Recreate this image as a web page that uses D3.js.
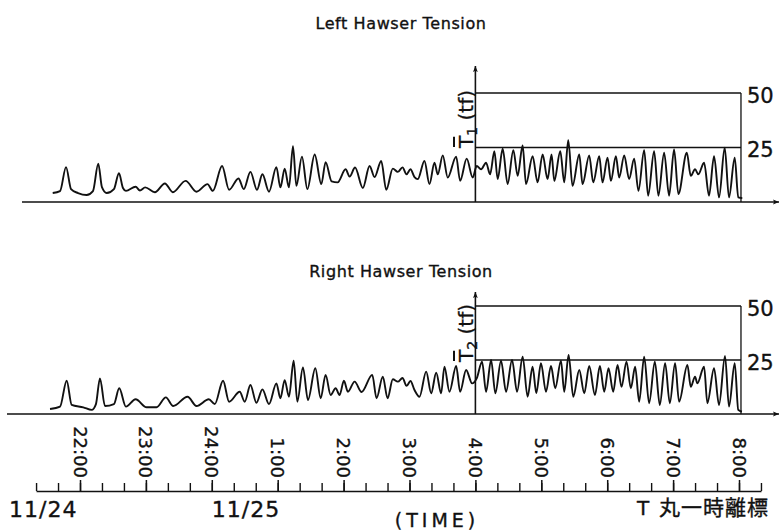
<!DOCTYPE html>
<html>
<head>
<meta charset="utf-8">
<script src="https://cdn.jsdelivr.net/npm/d3@7"></script>
<style>
  body { margin: 0; background: #fff; }
  svg { display: block; }
  text { font-family: "DejaVu Sans", sans-serif; fill: #111; stroke: #111; stroke-width: 0.35px; }
</style>
</head>
<body>
<svg id="chart" width="779" height="532"></svg>
<script>
// Time is in hours counted from 11/24 00:00 (so 25 = 1:00 on 11/25); tension in tf.
const leftHawser = [
  [21.586,4.1],[21.697,5.0],[21.788,16.0],[21.864,5.9],[21.97,4.1],[22.10,3.2],[22.197,5.0],[22.277,17.6],
  [22.333,6.8],[22.405,4.1],[22.515,5.9],[22.591,13.2],[22.652,6.4],[22.697,5.1],[22.844,7.0],[22.909,5.3],
  [22.989,6.7],[23.136,4.5],[23.288,8.5],[23.409,4.5],[23.602,9.7],[23.768,4.7],[23.935,8.2],[24.015,5.1],
  [24.156,16.5],[24.262,5.6],[24.405,10.8],[24.485,5.9],[24.586,13.8],[24.686,5.6],[24.768,12.7],[24.868,4.7],
  [24.98,16.0],[25.041,6.7],[25.106,15.3],[25.171,6.7],[25.232,25.6],[25.283,7.4],[25.368,20.8],[25.45,5.9],
  [25.561,21.8],[25.662,8.2],[25.727,18.3],[25.818,9.5],[25.909,9.0],[26.03,15.0],[26.091,11.7],[26.174,15.8],
  [26.292,6.4],[26.394,16.5],[26.47,11.4],[26.571,18.8],[26.647,5.6],[26.747,15.3],[26.823,13.8],[26.894,15.9],
  [26.955,12.7],[27.015,15.0],[27.076,11.4],[27.126,10.5],[27.227,18.8],[27.303,8.2],[27.379,18.0],[27.429,12.7],
  [27.505,21.4],[27.58,11.2],[27.708,20.8],[27.768,9.7],[27.868,19.9],[27.959,11.2],[28.02,16.5],[28.086,15.0],
  [28.162,18.0],[28.223,12.7],[28.288,23.3],[28.338,10.5],[28.414,24.4],[28.489,8.2],[28.576,23.8],[28.641,12.0],
  [28.717,25.9],[28.768,8.2],[28.868,21.0],[28.944,9.0],[29.02,21.8],[29.095,10.5],[29.156,21.8],[29.197,9.7],
  [29.288,23.3],[29.348,9.0],[29.409,28.3],[29.474,7.4],[29.576,21.8],[29.626,8.2],[29.727,21.4],[29.788,9.0],
  [29.879,21.0],[29.929,9.0],[30.005,20.3],[30.056,9.7],[30.132,21.0],[30.182,11.2],[30.258,21.4],[30.333,10.5],
  [30.409,19.9],[30.474,5.1],[30.561,23.8],[30.621,2.9],[30.712,23.3],[30.777,2.9],[30.864,22.6],[30.939,2.9],
  [31.015,24.1],[31.08,3.6],[31.208,22.6],[31.268,12.0],[31.333,15.0],[31.383,12.7],[31.47,18.0],[31.545,2.9],
  [31.621,21.0],[31.697,2.1],[31.783,24.9],[31.848,2.1],[31.935,20.3],[31.989,2.1],[32.05,1.8]
];

const rightHawser = [
  [21.545,2.3],[21.697,3.4],[21.798,15.4],[21.874,4.2],[22.05,3.1],[22.177,1.9],[22.242,4.6],[22.303,16.5],
  [22.379,3.7],[22.515,4.6],[22.595,11.9],[22.697,3.4],[22.844,6.8],[23.011,3.1],[23.162,3.1],[23.303,7.7],
  [23.414,3.7],[23.632,8.0],[23.768,3.7],[23.955,6.8],[24.045,4.6],[24.171,15.4],[24.262,5.7],[24.424,10.3],
  [24.5,5.7],[24.586,13.4],[24.677,5.2],[24.768,11.4],[24.868,4.6],[24.98,14.2],[25.041,7.3],[25.106,15.7],
  [25.171,8.0],[25.242,24.7],[25.298,5.7],[25.383,21.6],[25.459,6.5],[25.571,21.2],[25.652,7.3],[25.727,18.1],
  [25.803,8.8],[25.879,11.9],[25.939,8.8],[26.005,15.4],[26.065,10.3],[26.167,15.0],[26.273,10.2],[26.435,18.1],
  [26.5,7.3],[26.595,17.3],[26.667,7.3],[26.747,16.1],[26.823,15.0],[26.894,16.7],[26.955,13.0],[27.015,15.3],
  [27.076,11.1],[27.152,8.0],[27.253,19.6],[27.329,9.6],[27.405,19.1],[27.48,9.6],[27.53,21.9],[27.606,10.3],
  [27.708,22.2],[27.768,10.3],[27.859,20.4],[27.95,14.2],[28.02,16.5],[28.101,24.2],[28.162,10.3],[28.238,25.0],
  [28.303,9.6],[28.389,24.7],[28.465,10.3],[28.556,25.0],[28.632,10.3],[28.717,26.5],[28.792,8.0],[28.868,21.9],
  [28.924,9.7],[28.995,23.5],[29.071,10.3],[29.147,22.2],[29.212,11.9],[29.298,24.7],[29.348,10.3],[29.414,27.3],
  [29.485,8.0],[29.576,20.4],[29.652,9.6],[29.727,22.2],[29.814,8.8],[29.889,22.2],[29.955,10.3],[30.02,21.2],
  [30.091,10.3],[30.157,22.7],[30.217,12.6],[30.293,24.2],[30.359,11.9],[30.424,21.9],[30.485,5.7],[30.561,26.5],
  [30.636,5.0],[30.723,24.2],[30.798,4.2],[30.879,23.5],[30.95,5.0],[31.03,23.5],[31.091,5.7],[31.217,22.7],
  [31.268,12.6],[31.333,17.3],[31.368,14.2],[31.47,21.9],[31.52,5.0],[31.621,21.2],[31.697,4.2],[31.788,26.9],
  [31.848,3.4],[31.935,23.5],[31.989,1.9],[32.045,1.1]
];

const hourTicks = [22, 23, 24, 25, 26, 27, 28, 29, 30, 31, 32];
const hourLabels = ["22:00", "23:00", "24:00", "1:00", "2:00", "3:00", "4:00", "5:00", "6:00", "7:00", "8:00"];
const tensionTicks = [25, 50];
const dayLabels = ["11/24", "11/25"];

const svg = d3.select("#chart");
const ink = "#111";

// time scale shared by both panels and the clock axis
const x = d3.scaleLinear().domain([22, 32]).range([80, 739]);
const tStart = 21 + 1 / 3, tEnd = 32 + 1 / 3, tFrame = 32.03;
const xOrigin = x(28);

svg.append("defs").selectAll("marker")
  .data(["arrowUp", "arrowRight"])
  .join("marker")
  .attr("id", d => d)
  .attr("viewBox", "0 0 10 10")
  .attr("refX", 10).attr("refY", 5)
  .attr("markerUnits", "userSpaceOnUse")
  .attr("markerWidth", 11).attr("markerHeight", 6)
  .attr("orient", "auto")
  .append("path")
  .attr("d", "M0,1 L10,5 L0,9 L2,5 Z")
  .attr("fill", ink);

const panels = [
  { title: "Left Hawser Tension", titleY: 29, data: leftHawser,
    y: d3.scaleLinear().domain([0, 50]).range([202, 93]),
    arrowTop: 66, baseFrom: 22, sub: "1", labelY: 119 },
  { title: "Right Hawser Tension", titleY: 277, data: rightHawser,
    y: d3.scaleLinear().domain([0, 50]).range([414, 306]),
    arrowTop: 292, baseFrom: 7, sub: "2", labelY: 333 }
];

panels.forEach(p => {
  const g = svg.append("g");
  const y0 = p.y(0);

  g.append("text")
    .attr("x", 401).attr("y", p.titleY)
    .attr("text-anchor", "middle")
    .attr("font-size", 16)
    .attr("letter-spacing", 0.6)
    .text(p.title);

  // base line with arrow to the right
  g.append("line")
    .attr("x1", p.baseFrom).attr("x2", 779)
    .attr("y1", y0).attr("y2", y0)
    .attr("stroke", ink).attr("stroke-width", 1.7)
    .attr("marker-end", "url(#arrowRight)");

  // tension axis at 4:00, pointing up
  g.append("line")
    .attr("x1", xOrigin).attr("x2", xOrigin)
    .attr("y1", y0).attr("y2", p.arrowTop)
    .attr("stroke", ink).attr("stroke-width", 1.6)
    .attr("marker-end", "url(#arrowUp)");

  // reference frame at 25 and 50 tf
  g.selectAll("line.ref")
    .data(tensionTicks)
    .join("line")
    .attr("class", "ref")
    .attr("x1", xOrigin).attr("x2", x(tFrame))
    .attr("y1", d => p.y(d)).attr("y2", d => p.y(d))
    .attr("stroke", ink).attr("stroke-width", 1.3);

  g.append("line")
    .attr("x1", x(tFrame)).attr("x2", x(tFrame))
    .attr("y1", p.y(50)).attr("y2", y0)
    .attr("stroke", ink).attr("stroke-width", 1.3);

  const axisR = d3.axisRight(p.y).tickValues(tensionTicks).tickSize(0).tickPadding(6);
  const ga = g.append("g")
    .attr("transform", `translate(${x(tFrame)},0)`)
    .call(axisR);
  ga.select(".domain").remove();
  ga.selectAll("text")
    .attr("font-size", 21)
    .attr("dy", "0.45em")
    .attr("fill", ink)
    .style("font-family", "'DejaVu Sans', sans-serif");

  // rotated axis title: T with overbar, subscript, unit
  const lg = g.append("g")
    .attr("transform", `translate(473,${p.labelY}) rotate(-90)`);
  const lt = lg.append("text")
    .attr("text-anchor", "middle")
    .attr("font-size", 20);
  lt.append("tspan").text("T");
  lt.append("tspan").attr("font-size", 14).attr("dy", 4).text(p.sub);
  lt.append("tspan").attr("dy", -4).text(" (tf)");
  const node = lt.node();
  const tx = node.getStartPositionOfChar(0).x;
  const tw = node.getSubStringLength(0, 1);
  lg.append("line")
    .attr("x1", tx + 1).attr("x2", tx + tw - 1)
    .attr("y1", -19).attr("y2", -19)
    .attr("stroke", ink).attr("stroke-width", 2);

  // tension record
  const line = d3.line()
    .x(d => x(d[0]))
    .y(d => p.y(d[1]))
    .curve(d3.curveMonotoneX);
  g.append("path")
    .datum(p.data)
    .attr("d", line)
    .attr("fill", "none")
    .attr("stroke", ink)
    .attr("stroke-width", 1.9)
    .attr("stroke-linejoin", "round");
});

// clock axis
const axisY = 491;
const xAxis = x.copy().domain([tStart, tEnd]).range([x(tStart), x(tEnd)]);
const minorTicks = d3.range(0, 34).map(i => tStart + i / 3);

const gMinor = svg.append("g")
  .attr("transform", `translate(0,${axisY})`)
  .call(d3.axisTop(xAxis).tickValues(minorTicks).tickSize(8).tickSizeOuter(0).tickFormat(""));
gMinor.select(".domain").attr("stroke", ink).attr("stroke-width", 1.7);
gMinor.selectAll(".tick line").attr("stroke", ink).attr("stroke-width", 1.4);

const gMajor = svg.append("g")
  .attr("transform", `translate(0,${axisY})`)
  .call(d3.axisTop(xAxis).tickValues(hourTicks).tickSize(11).tickSizeOuter(0).tickFormat(""));
gMajor.select(".domain").remove();
gMajor.selectAll(".tick line").attr("stroke", ink).attr("stroke-width", 1.5);

svg.append("g").selectAll("text")
  .data(hourTicks)
  .join("text")
  .attr("x", d => x(d)).attr("y", 478)
  .attr("transform", d => `rotate(90,${x(d)},478)`)
  .attr("text-anchor", "end")
  .attr("dominant-baseline", "central")
  .attr("font-size", 18)
  .text((d, i) => hourLabels[i]);

svg.append("text")
  .attr("x", 9).attr("y", 517)
  .attr("font-size", 22).attr("letter-spacing", 1)
  .text(dayLabels[0]);
svg.append("text")
  .attr("x", x(24)).attr("y", 517)
  .attr("font-size", 22).attr("letter-spacing", 1)
  .text(dayLabels[1]);

svg.append("text")
  .attr("x", 437).attr("y", 527)
  .attr("text-anchor", "middle")
  .attr("font-size", 19).attr("letter-spacing", 4)
  .text("(TIME)");

svg.append("text")
  .attr("x", 637).attr("y", 515)
  .attr("font-size", 20)
  .text("T");
svg.append("text")
  .attr("x", 659).attr("y", 515)
  .attr("font-size", 21)
  .attr("letter-spacing", 1)
  .style("font-family", "'Noto Sans CJK JP', sans-serif")
  .text("丸一時離標");
</script>
</body>
</html>
